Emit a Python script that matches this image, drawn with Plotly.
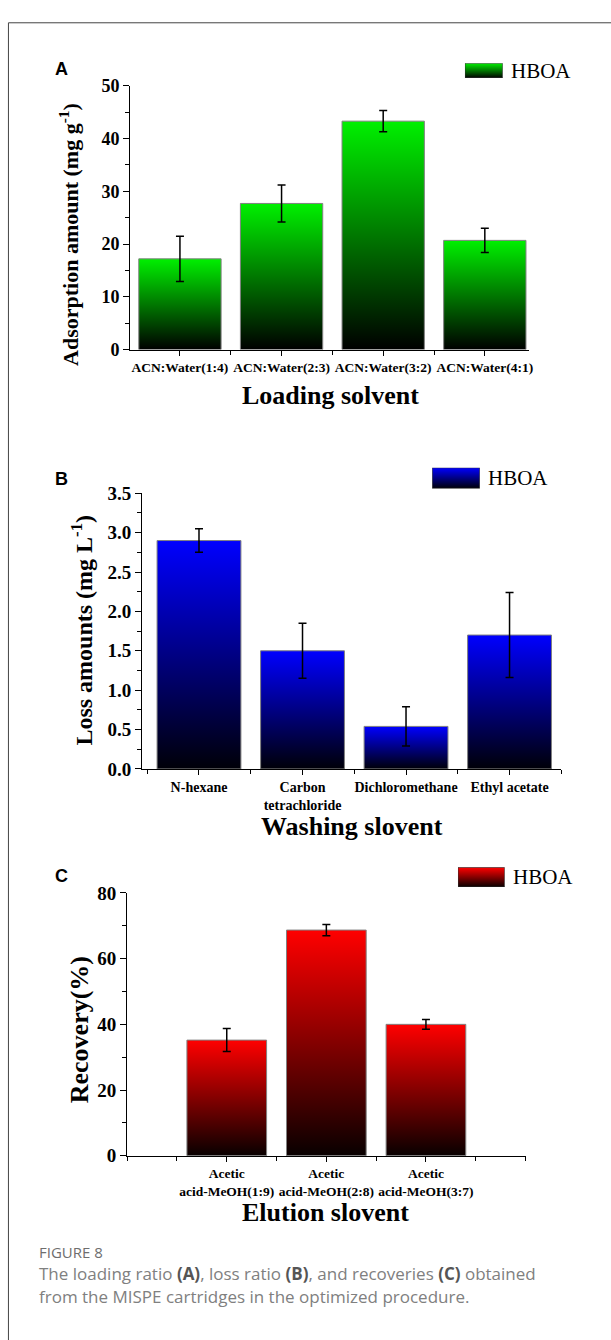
import plotly.graph_objects as go

W, H = 611, 1340

# ---------------- data ----------------
a_categories = ["ACN:Water(1:4)", "ACN:Water(2:3)", "ACN:Water(3:2)", "ACN:Water(4:1)"]
a_values = [17.2, 27.7, 43.3, 20.7]
a_errors = [4.3, 3.5, 2.0, 2.3]

b_categories = ["N-hexane", "Carbon<br>tetrachloride", "Dichloromethane", "Ethyl acetate"]
b_values = [2.90, 1.50, 0.54, 1.70]
b_errors = [0.15, 0.35, 0.25, 0.54]

c_categories = ["Acetic<br>acid-MeOH(1:9)", "Acetic<br>acid-MeOH(2:8)", "Acetic<br>acid-MeOH(3:7)"]
c_values = [35.2, 68.7, 40.0]
c_errors = [3.5, 1.7, 1.5]

series_name = "HBOA"

a_yticks = [0, 10, 20, 30, 40, 50]
b_yticks = [0.0, 0.5, 1.0, 1.5, 2.0, 2.5, 3.0, 3.5]
c_yticks = [0, 20, 40, 60, 80]

# ---------------- helpers ----------------
def fx(px):
    return px / W

def fy(py):
    return 1 - py / H

SERIF = "Liberation Serif, Times New Roman, serif"

panels = [
    dict(letter="A", cats=a_categories, vals=a_values, errs=a_errors, yticks=a_yticks,
         minor=5, fmt="d", xr=[-0.49, 3.43], yr=[0, 50],
         xpx=(131, 532), ypx=(77, 345), bw=0.81,
         cs=[[0, "#000000"], [1, "#00f000"]],
         ytitle="Adsorption amount (mg g<sup>-1</sup>)", ytitle_pos=(70, 228), ytitle_size=22,
         xtitle="Loading solvent", xtitle_pos=(333, 392),
         letter_pos=(53, 60), sw=(468, 506, 54, 69), label_x=512, ytick_size=18, xtick_size=13.5),
    dict(letter="B", cats=b_categories, vals=b_values, errs=b_errors, yticks=b_yticks,
         minor=0.25, fmt=".1f", xr=[-0.55, 3.5], yr=[0, 3.5],
         xpx=(143, 565), ypx=(491, 771), bw=0.81,
         cs=[[0, "#000008"], [1, "#0000ff"]],
         ytitle="Loss amounts (mg L<sup>-1</sup>)", ytitle_pos=(83, 630), ytitle_size=24,
         xtitle="Washing slovent", xtitle_pos=(354, 829),
         letter_pos=(53, 476), sw=(435, 483, 465, 486), label_x=489, ytick_size=19, xtick_size=14),
    dict(letter="C", cats=c_categories, vals=c_values, errs=c_errors, yticks=c_yticks,
         minor=10, fmt="d", xr=[-1.0, 3.0], yr=[0, 80],
         xpx=(128, 529), ypx=(897, 1164), bw=0.8,
         cs=[[0, "#080000"], [1, "#ff0000"]],
         ytitle="Recovery(%)", ytitle_pos=(80, 1036), ytitle_size=26,
         xtitle="Elution slovent", xtitle_pos=(328, 1222),
         letter_pos=(53, 880), sw=(461, 508, 871, 891), label_x=514, ytick_size=19, xtick_size=13.5),
]

fig = go.Figure()
annotations = []
layout_axes = {}

for i, p in enumerate(panels, start=1):
    xid = "x" if i == 1 else f"x{i}"
    yid = "y" if i == 1 else f"y{i}"
    xname = "xaxis" if i == 1 else f"xaxis{i}"
    yname = "yaxis" if i == 1 else f"yaxis{i}"
    n = len(p["cats"])
    half = p["bw"] / 2

    # gradient-filled bars
    for j, v in enumerate(p["vals"]):
        fig.add_trace(go.Scatter(
            x=[j - half, j + half, j + half, j - half, j - half],
            y=[0, 0, v, v, 0],
            mode="lines", fill="toself",
            fillgradient=dict(type="vertical", colorscale=p["cs"]),
            line=dict(color="#808080", width=1),
            hoverinfo="skip", showlegend=False,
            xaxis=xid, yaxis=yid,
        ))
    # error bars
    fig.add_trace(go.Scatter(
        x=list(range(n)), y=p["vals"], mode="markers",
        marker=dict(size=2, color="rgba(0,0,0,0)"),
        error_y=dict(type="data", array=p["errs"], color="black", thickness=1.5, width=4),
        name=series_name, showlegend=False, xaxis=xid, yaxis=yid,
    ))

    layout_axes[xname] = dict(
        domain=[fx(p["xpx"][0]), fx(p["xpx"][1])], anchor=yid, range=p["xr"],
        tickmode="array", tickvals=list(range(n)), ticktext=p["cats"], tickangle=0,
        ticks="outside", ticklen=5, tickwidth=1.2, tickcolor="black",
        minor=dict(tickmode="linear", tick0=0, dtick=0.5, ticks="outside",
                   ticklen=4, tickwidth=1.2, tickcolor="black"),
        showline=True, linecolor="black", linewidth=1.2, showgrid=False, zeroline=False,
        tickfont=dict(family=SERIF, size=p["xtick_size"], color="black", weight="bold"),
        fixedrange=True,
    )
    layout_axes[yname] = dict(
        domain=[fy(p["ypx"][1]), fy(p["ypx"][0])], anchor=xid, range=p["yr"],
        tickmode="array", tickvals=p["yticks"], tickformat=p["fmt"],
        ticks="outside", ticklen=6, tickwidth=1.2, tickcolor="black",
        minor=dict(tickmode="linear", tick0=0, dtick=p["minor"], ticks="outside",
                   ticklen=4, tickwidth=1.2, tickcolor="black"),
        showline=True, linecolor="black", linewidth=1.2, showgrid=False, zeroline=False,
        tickfont=dict(family=SERIF, size=p["ytick_size"], color="black", weight="bold"),
        fixedrange=True,
    )

    # legend swatch on its own tiny axis pair
    k = i + 3
    sx, sy = f"x{k}", f"y{k}"
    x0, x1, y0, y1 = p["sw"]
    layout_axes[f"xaxis{k}"] = dict(domain=[fx(x0), fx(x1)], range=[0, 1], visible=False,
                                    anchor=sy, fixedrange=True)
    layout_axes[f"yaxis{k}"] = dict(domain=[fy(y1), fy(y0)], range=[0, 1], visible=False,
                                    anchor=sx, fixedrange=True)
    fig.add_trace(go.Scatter(
        x=[0, 1, 1, 0, 0], y=[0, 0, 1, 1, 0], mode="lines", fill="toself",
        fillgradient=dict(type="vertical", colorscale=p["cs"]),
        line=dict(color="#333333", width=1), hoverinfo="skip", showlegend=False,
        xaxis=sx, yaxis=sy, cliponaxis=False,
    ))
    annotations.append(dict(
        text=series_name, x=fx(p["label_x"]), y=fy((y0 + y1) / 2), xref="paper", yref="paper",
        xanchor="left", yanchor="middle", showarrow=False,
        font=dict(family=SERIF, size=21, color="black"),
    ))

    # panel letter
    annotations.append(dict(
        text=f"<b>{p['letter']}</b>", x=fx(p["letter_pos"][0]), y=fy(p["letter_pos"][1]),
        xref="paper", yref="paper", xanchor="left", yanchor="middle", showarrow=False,
        font=dict(family="Liberation Sans, Arial, sans-serif", size=18, color="black"),
    ))
    # axis titles
    annotations.append(dict(
        text=f"<b>{p['ytitle']}</b>", x=fx(p["ytitle_pos"][0]), y=fy(p["ytitle_pos"][1]),
        xref="paper", yref="paper", xanchor="center", yanchor="middle", showarrow=False,
        textangle=-90, font=dict(family=SERIF, size=p["ytitle_size"], color="black"),
    ))
    annotations.append(dict(
        text=f"<b>{p['xtitle']}</b>", x=fx(p["xtitle_pos"][0]), y=fy(p["xtitle_pos"][1]),
        xref="paper", yref="paper", xanchor="center", yanchor="middle", showarrow=False,
        font=dict(family=SERIF, size=26, color="black"),
    ))

# caption
CAP = "Open Sans, Noto Sans, sans-serif"
annotations.append(dict(
    text="FIGURE 8", x=fx(37), y=fy(1262), xref="paper", yref="paper",
    xanchor="left", yanchor="middle", showarrow=False,
    font=dict(family=CAP, size=15, color="#6e6e6e"),
))
annotations.append(dict(
    text="The loading ratio <b><span style='color:#555555'>(A)</span></b>, loss ratio "
         "<b><span style='color:#555555'>(B)</span></b>, and recoveries "
         "<b><span style='color:#555555'>(C)</span></b> obtained",
    x=fx(37), y=fy(1284), xref="paper", yref="paper",
    xanchor="left", yanchor="middle", showarrow=False,
    font=dict(family=CAP, size=17, color="#808080"),
))
annotations.append(dict(
    text="from the MISPE cartridges in the optimized procedure.",
    x=fx(37), y=fy(1307), xref="paper", yref="paper",
    xanchor="left", yanchor="middle", showarrow=False,
    font=dict(family=CAP, size=17, color="#808080"),
))

fig.update_layout(
    width=W, height=H,
    margin=dict(l=0, r=0, t=0, b=0),
    paper_bgcolor="white", plot_bgcolor="white",
    showlegend=False,
    annotations=annotations,
    shapes=[dict(type="rect", xref="paper", yref="paper",
                 x0=fx(8.5), x1=1.2, y0=fy(13), y1=-0.2,
                 line=dict(color="#444444", width=1), fillcolor="rgba(0,0,0,0)", layer="below")],
    **layout_axes,
)

fig.write_html("out.html", config={"displayModeBar": False})
